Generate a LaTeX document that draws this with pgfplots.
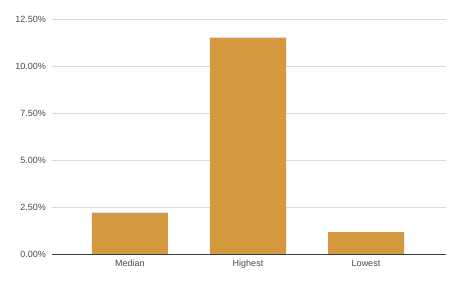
\documentclass[border=0pt]{standalone}
\usepackage{fontspec}
\setmainfont{Liberation Sans}
\usepackage{pgfplots}
\pgfplotsset{compat=1.18}
\definecolor{barc}{HTML}{D4993F}
\definecolor{gridc}{HTML}{DADADA}
\definecolor{txt}{HTML}{4A4A4A}
\begin{document}
\begin{tikzpicture}[x=1pt,y=1pt]
\path[use as bounding box] (0,0) rectangle (460,284);
\begin{axis}[
  at={(52pt,30pt)}, anchor=south west,
  scale only axis, width=394pt, height=234.5pt,
  xmin=-0.661, xmax=2.678, ymin=0, ymax=12.5,
  ytick={0,2.5,5,7.5,10,12.5},
  xtick={0,1,2}, xticklabels={Median,Highest,Lowest},
  major tick length=0pt,
  axis line style={draw=none},
  ymajorgrids, grid style={gridc, line width=0.8pt},
  /pgf/number format/assume math mode=true,
  yticklabel={\pgfmathprintnumber[fixed,fixed zerofill,precision=2]{\tick}\%},
  yticklabel style={anchor=east, inner sep=0pt, xshift=-6pt, font=\fontsize{9}{10}\selectfont, text=txt},
  xticklabel style={anchor=north, inner sep=0pt, yshift=-6pt, font=\fontsize{9}{10}\selectfont, text=txt},
  clip=false,
]
\addplot[ybar, bar width=76pt, fill=barc, draw=none] coordinates {(0,2.20) (1,11.53) (2,1.17)};
\draw[color=black!75, line width=0.9pt] (axis cs:-0.661,0) -- (axis cs:2.678,0);
\end{axis}
\end{tikzpicture}
\end{document}
